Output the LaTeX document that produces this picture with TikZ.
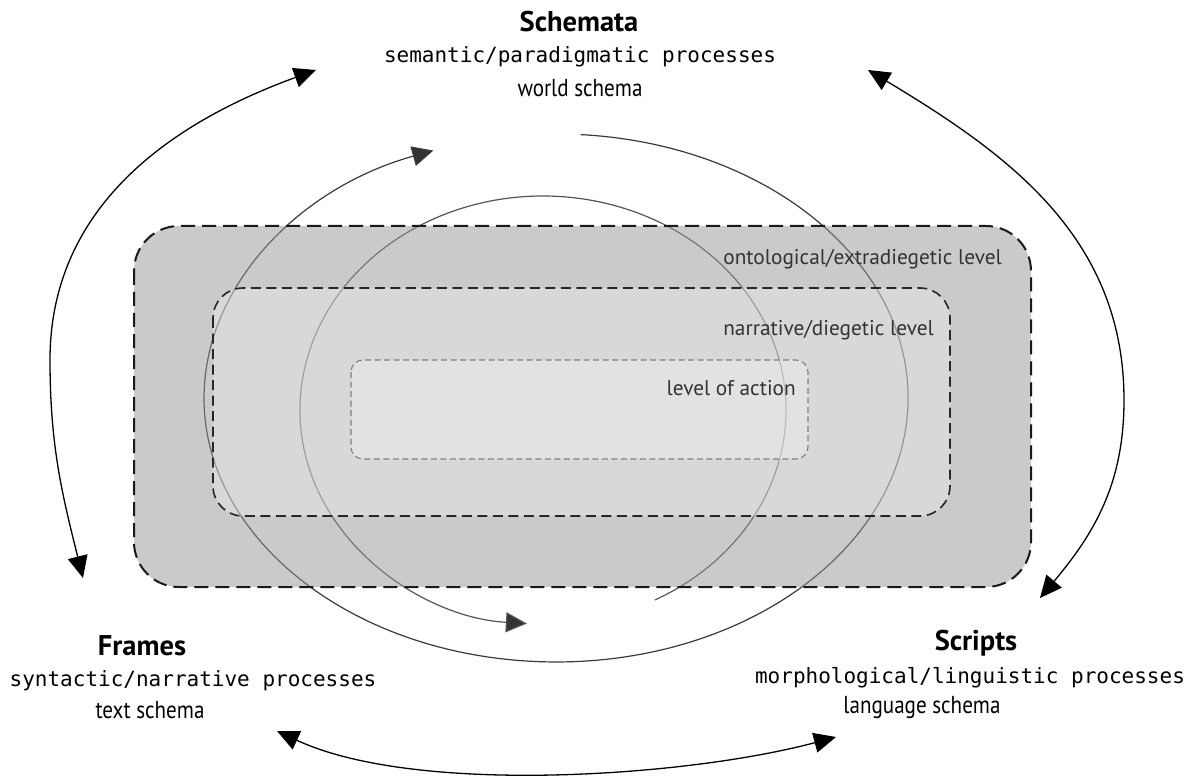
\documentclass[tikz,border=0pt]{standalone}
\usepackage{fontspec}
\setmainfont{PT Sans}
\setmonofont{DejaVu Sans Mono}
\newfontfamily\condfont[FakeStretch=0.86]{PT Sans}
\usetikzlibrary{arrows.meta}
\definecolor{fillA}{RGB}{150,150,150}
\definecolor{fillB}{RGB}{245,245,245}
\definecolor{fillC}{RGB}{250,250,250}
\definecolor{arcA}{RGB}{58,58,58}
\definecolor{arcB}{RGB}{85,85,85}
\definecolor{tipgray}{RGB}{51,51,51}
\definecolor{labelgray}{RGB}{51,51,51}
\tikzset{
  titletext/.style={font=\bfseries\fontsize{28.5}{32}\selectfont, inner sep=0pt, anchor=base},
  proctext/.style={font=\ttfamily\fontsize{21}{25}\selectfont, inner sep=0pt, anchor=base},
  schematext/.style={font=\condfont\fontsize{24.5}{28}\selectfont, inner sep=0pt, anchor=base},
  leveltext/.style={font=\fontsize{21.3}{25}\selectfont, text=labelgray, inner sep=0pt, anchor=base east},
  outerarr/.style={{Triangle[length=22pt,width=20pt]}-{Triangle[length=22pt,width=20pt]}, line width=1.3pt, black},
  cyclearr/.style={line width=1.2pt, -{Triangle[length=21pt,width=20pt,fill=tipgray]}},
  levelA/.style={fill=fillA, fill opacity=0.505, draw=black!90, draw opacity=1, line width=2pt, dash pattern=on 14pt off 7pt, rounded corners=45pt},
  levelB/.style={fill=fillB, fill opacity=0.326, draw=black!85, draw opacity=1, line width=1.6pt, dash pattern=on 10pt off 5.5pt, rounded corners=30pt},
  levelC/.style={fill=fillC, fill opacity=0.32, draw=black!50, draw opacity=1, line width=1.1pt, dash pattern=on 6pt off 3.5pt, rounded corners=12pt},
}
\begin{document}
\begin{tikzpicture}[x=1pt,y=1pt]
\useasboundingbox (0,0) rectangle (1195,-778);

% cycle arcs (drawn under the translucent levels)
\coordinate (arcAstart) at (580.6,-134.6);
\coordinate (arcBstart) at (654.8,-600.0);
\draw[cyclearr, arcA] (arcAstart) arc[start angle=86, end angle=-249.6, x radius=352pt, y radius=264pt];
\draw[cyclearr, arcB] (arcBstart) arc[start angle=-62.6, end angle=266.2, x radius=243pt, y radius=214pt];

% levels
\path[levelA] (134,-226) rectangle (1031,-587);
\path[levelB] (213,-288) rectangle (950,-516);
\path[levelC] (351,-360) rectangle (808,-459);

\node[leveltext] (lvlA) at (1002,-265) {ontological/extradiegetic level};
\node[leveltext] (lvlB) at (934,-335) {narrative/diegetic level};
\node[leveltext] (lvlC) at (796,-395) {level of action};

% captions
\node[titletext] (schT) at (579,-32) {Schemata};
\node[proctext] (schP) at (580,-63) {semantic/paradigmatic processes};
\node[schematext] (schS) at (580,-97) {world schema};

\node[titletext] (frT) at (142,-655) {Frames};
\node[proctext] (frP) at (193,-686) {syntactic/narrative processes};
\node[schematext] (frS) at (150,-718) {text schema};

\node[titletext] (scT) at (976,-650) {Scripts};
\node[proctext] (scP) at (970,-683) {morphological/linguistic processes};
\node[schematext] (scS) at (922,-713) {language schema};

% outer double arrows
\coordinate (lt) at (316,-70);
\coordinate (lm) at (50,-360);
\coordinate (lb) at (83,-578);
\draw[outerarr] (lt) to[out=200,in=90] (lm) to[out=270,in=104] (lb);

\coordinate (rt) at (868,-70);
\coordinate (rm) at (1124,-400);
\coordinate (rb) at (1040,-598);
\draw[outerarr] (rt) to[out=-31,in=90] (rm) to[out=270,in=50] (rb);

\coordinate (bl) at (277,-731);
\coordinate (br) at (836,-737);
\draw[outerarr] (bl) to[out=-25,in=195,looseness=0.7] (br);
\end{tikzpicture}
\end{document}
